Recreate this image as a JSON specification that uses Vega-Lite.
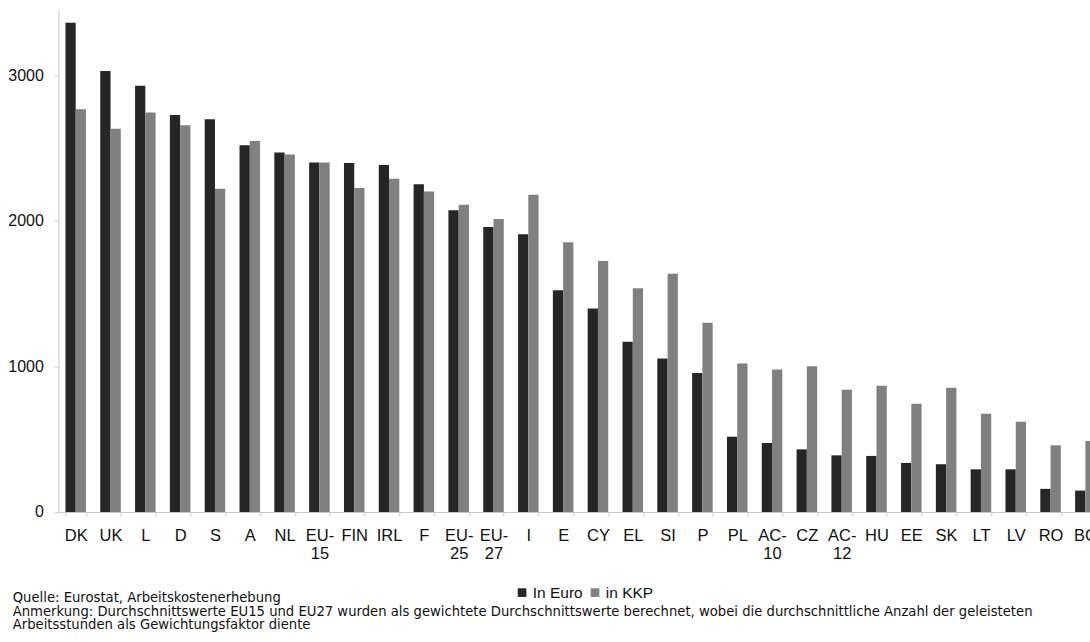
{
  "$schema": "https://vega.github.io/schema/vega-lite/v6.json",
  "autosize": "none",
  "width": 1032,
  "height": 502.5,
  "padding": {"left": 58.3, "top": 9.5, "right": 0, "bottom": 130},
  "background": "white",
  "title": {
    "text": [
      "Quelle: Eurostat, Arbeitskostenerhebung",
      "Anmerkung: Durchschnittswerte EU15 und EU27 wurden als gewichtete Durchschnittswerte berechnet, wobei die durchschnittliche Anzahl der geleisteten",
      "Arbeitsstunden als Gewichtungsfaktor diente"
    ],
    "orient": "bottom",
    "anchor": "start",
    "frame": "group",
    "dx": -45.6,
    "offset": 0,
    "dy": -9,
    "font": "DejaVu Sans",
    "fontSize": 13.2,
    "fontWeight": "normal",
    "color": "#111111",
    "lineHeight": 13.5
  },
  "data": {
    "values": [
      {"land": "DK", "serie": "In Euro", "wert": 3359}, {"land": "DK", "serie": "in KKP", "wert": 2766},
      {"land": "UK", "serie": "In Euro", "wert": 3028}, {"land": "UK", "serie": "in KKP", "wert": 2631},
      {"land": "L", "serie": "In Euro", "wert": 2927}, {"land": "L", "serie": "in KKP", "wert": 2742},
      {"land": "D", "serie": "In Euro", "wert": 2726}, {"land": "D", "serie": "in KKP", "wert": 2655},
      {"land": "S", "serie": "In Euro", "wert": 2697}, {"land": "S", "serie": "in KKP", "wert": 2220},
      {"land": "A", "serie": "In Euro", "wert": 2518}, {"land": "A", "serie": "in KKP", "wert": 2548},
      {"land": "NL", "serie": "In Euro", "wert": 2468}, {"land": "NL", "serie": "in KKP", "wert": 2454},
      {"land": "EU-15", "serie": "In Euro", "wert": 2400}, {"land": "EU-15", "serie": "in KKP", "wert": 2400},
      {"land": "FIN", "serie": "In Euro", "wert": 2396}, {"land": "FIN", "serie": "in KKP", "wert": 2224},
      {"land": "IRL", "serie": "In Euro", "wert": 2382}, {"land": "IRL", "serie": "in KKP", "wert": 2288},
      {"land": "F", "serie": "In Euro", "wert": 2250}, {"land": "F", "serie": "in KKP", "wert": 2201},
      {"land": "EU-25", "serie": "In Euro", "wert": 2071}, {"land": "EU-25", "serie": "in KKP", "wert": 2110},
      {"land": "EU-27", "serie": "In Euro", "wert": 1957}, {"land": "EU-27", "serie": "in KKP", "wert": 2012},
      {"land": "I", "serie": "In Euro", "wert": 1907}, {"land": "I", "serie": "in KKP", "wert": 2178},
      {"land": "E", "serie": "In Euro", "wert": 1523}, {"land": "E", "serie": "in KKP", "wert": 1852},
      {"land": "CY", "serie": "In Euro", "wert": 1397}, {"land": "CY", "serie": "in KKP", "wert": 1724},
      {"land": "EL", "serie": "In Euro", "wert": 1169}, {"land": "EL", "serie": "in KKP", "wert": 1537},
      {"land": "SI", "serie": "In Euro", "wert": 1054}, {"land": "SI", "serie": "in KKP", "wert": 1635},
      {"land": "P", "serie": "In Euro", "wert": 954}, {"land": "P", "serie": "in KKP", "wert": 1300},
      {"land": "PL", "serie": "In Euro", "wert": 517}, {"land": "PL", "serie": "in KKP", "wert": 1020},
      {"land": "AC-10", "serie": "In Euro", "wert": 474}, {"land": "AC-10", "serie": "in KKP", "wert": 979},
      {"land": "CZ", "serie": "In Euro", "wert": 430}, {"land": "CZ", "serie": "in KKP", "wert": 1000},
      {"land": "AC-12", "serie": "In Euro", "wert": 389}, {"land": "AC-12", "serie": "in KKP", "wert": 840},
      {"land": "HU", "serie": "In Euro", "wert": 385}, {"land": "HU", "serie": "in KKP", "wert": 867},
      {"land": "EE", "serie": "In Euro", "wert": 337}, {"land": "EE", "serie": "in KKP", "wert": 744},
      {"land": "SK", "serie": "In Euro", "wert": 328}, {"land": "SK", "serie": "in KKP", "wert": 853},
      {"land": "LT", "serie": "In Euro", "wert": 293}, {"land": "LT", "serie": "in KKP", "wert": 675},
      {"land": "LV", "serie": "In Euro", "wert": 293}, {"land": "LV", "serie": "in KKP", "wert": 620},
      {"land": "RO", "serie": "In Euro", "wert": 159}, {"land": "RO", "serie": "in KKP", "wert": 458},
      {"land": "BG", "serie": "In Euro", "wert": 147}, {"land": "BG", "serie": "in KKP", "wert": 488}
    ]
  },
  "mark": {"type": "bar"},
  "encoding": {
    "x": {
      "field": "land",
      "type": "nominal",
      "sort": null,
      "scale": {"range": [0, 1044.5], "paddingInner": 0.41, "paddingOuter": 0.205},
      "axis": {
        "title": null,
        "labelAngle": 0,
        "labelExpr": "indexof(datum.label, '-') > 0 ? [slice(datum.label, 0, indexof(datum.label, '-') + 1), slice(datum.label, indexof(datum.label, '-') + 1)] : datum.label",
        "labelFont": "Liberation Sans",
        "labelFontSize": 16.5,
        "labelColor": "#111111",
        "labelLineHeight": 17.5,
        "labelPadding": 12,
        "tickSize": 4,
        "tickBand": "extent",
        "tickColor": "#c8c8c8",
        "domainColor": "#c8c8c8",
        "labelOverlap": false
      }
    },
    "xOffset": {
      "field": "serie",
      "type": "nominal",
      "sort": ["In Euro", "in KKP"],
      "scale": {"paddingInner": 0, "paddingOuter": 0}
    },
    "y": {
      "field": "wert",
      "type": "quantitative",
      "scale": {"domain": [0, 3450], "nice": false},
      "axis": {
        "title": null,
        "values": [0, 1000, 2000, 3000],
        "format": "d",
        "grid": false,
        "labelFont": "Liberation Sans",
        "labelFontSize": 16,
        "labelColor": "#111111",
        "labelPadding": 11,
        "tickSize": 4,
        "tickColor": "#c8c8c8",
        "domainColor": "#c8c8c8"
      }
    },
    "color": {
      "field": "serie",
      "type": "nominal",
      "scale": {"domain": ["In Euro", "in KKP"], "range": ["#262626", "#808080"]},
      "legend": {
        "orient": "none",
        "legendX": 456,
        "legendY": 575,
        "direction": "horizontal",
        "title": null,
        "symbolType": "square",
        "symbolSize": 75,
        "symbolStrokeWidth": 0,
        "symbolOpacity": 1,
        "labelFont": "Liberation Sans",
        "labelFontSize": 15.5,
        "labelColor": "#111111",
        "labelOffset": 3,
        "columnPadding": 4,
        "padding": 0
      }
    }
  },
  "config": {
    "view": {"stroke": null}
  }
}
